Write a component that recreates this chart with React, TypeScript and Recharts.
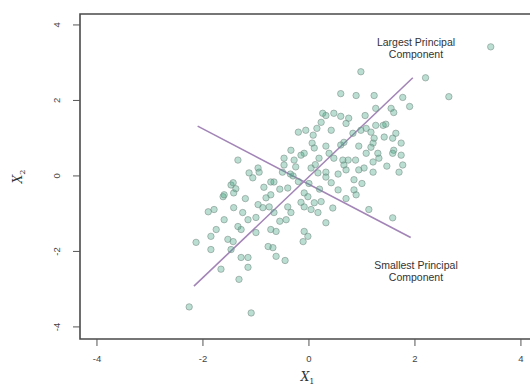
import { ReferenceArea, ReferenceDot, ReferenceLine, Scatter, ScatterChart, XAxis, YAxis } from 'recharts'

const x1 = [
  3.43, 0.98, 2.2, 2.64, 0.6, 0.89, 1.23, 1.77, 1.26, 1.55, 1.9, 1.06, 0.32, 0.47, 0.6, 0.75, 0.23, 0.7,
  -0.06, 0.15, 0.42, 0.83, 1.08, 1.26, 1.45, 1.23, 1.58, 1.74, 1.6, 1.74, 1.32, 1.47, 1.7, 0.06, 0.32, 0.6,
  0.94, 1.08, -0.34, -0.15, 0.19, 0.47, 0.74, 0.7, 0.94, 1.21, -0.47, -0.25, 0.04, 0.32, -1.34, -0.94,
  -1.06, -0.72, -1.47, -1.38, -1.62, -0.81, -0.72, 0.26, -0.2, 0.08, 0.98, 1.17, 0.1, 0.66, -0.47, -0.28,
  -0.09, 0.38, 0.64, 0.66, 0.88, 1.04, 1.17, -0.66, -0.4, -0.09, 0.32, 0.42, 0.55, 0.85, 0.85, -0.02, 0.17,
  1.4, 1.42, 1.64, 1.21, 1.3, 1.58, 1.77, 1.21, 1.6, -1.79, -1.42, -1.25, -0.96, -0.87, -1.6, -1.34, -1.15,
  -1.75, -1.85, -2.13, -1.53, -1.43, -1.28, -1.0, -1.85, -1.47, -1.15, -1.28, -1.66, -1.15, -1.32, -2.26,
  -1.09, -0.75, -0.77, -1.6, -1.42, -0.66, -0.4, -0.34, -0.62, -0.68, -0.62, -0.45, -0.09, -0.11, -0.02,
  -0.09, 0.1, 0.17, 0.32, 0.23, 1.13, 1.58, 0.89, 0.04, -0.43, -0.72, -1.13, -1.43, -0.96, -0.3, 0.0,
  -0.55, 0.2, -0.2, 0.55, -0.85, -0.5, 1.0, 0.7, 0.45, -1.0, -0.55, -1.2, -1.9, -0.35, 0.12, -0.15,
]
const x2 = [
  3.42, 2.76, 2.6, 2.1, 2.18, 2.13, 2.13, 2.08, 1.79, 1.79, 1.84, 1.6, 1.6, 1.66, 1.58, 1.53, 1.42, 1.39,
  1.21, 1.26, 1.21, 1.13, 1.26, 1.34, 1.37, 1.0, 1.0, 0.87, 0.68, 0.55, 0.47, 0.26, 0.1, 0.87, 0.79, 0.82,
  0.79, 0.6, 0.68, 0.55, 0.47, 0.47, 0.42, 0.16, 0.16, 0.1, 0.29, 0.24, 0.21, 0.1, 0.42, 0.1,
  -0.05, -0.16, -0.24, -0.34, -0.55, -0.58, -0.5, 1.66, 1.16, 1.08, 1.21, 1.16, 0.74, 0.89, 0.47, 0.42,
  0.6, 0.6, 0.42, 0.29, 0.42, 0.21, 0.76, -0.16, -0.32, -0.45, -0.03, -0.18, -0.37, -0.1, -0.37, -0.55, 0.08,
  1.34, 1.03, 1.13, 0.87, 0.6, 0.6, 0.29, 0.37, 1.68, -0.89, -0.84, -0.97, -0.76, -0.84, -1.16, -1.34, -1.16,
  -1.42, -1.6, -1.76, -1.68, -1.74, -1.42, -1.5, -1.95, -1.95, -2.16, -2.16, -2.47, -2.42, -2.74, -3.47,
  -3.63, -0.82, -1.87, -0.5, -0.45, -0.97, -0.82, -0.97, -1.47, -1.9, -2.13, -2.24, -1.47, -1.74, -1.6,
  -0.82, -0.71, -0.97, -1.24, -0.68, -0.89, -1.11, -0.5, -0.89, -1.16, -1.42, 0.08, -0.18, 0.21, 0.0, -0.2,
  -0.35, -0.35, -0.15, 0.05, -0.3, 0.1, -0.2, -0.6, -0.85, -1.1, -1.2, -0.6, -0.95, 0.05, 0.3, -0.7,
]

const largestPC = [{ x: -2.17, y: -2.92 }, { x: 1.96, y: 2.6 }]
const smallestPC = [{ x: -2.1, y: 1.32 }, { x: 1.92, y: -1.63 }]
const ticks = [-4, -2, 0, 2, 4]
const xDomain = [-4.32, 4.19]
const yDomain = [-4.32, 4.29]

const points = x1.map((v, i) => ({ x1: v, x2: x2[i] }))

const tickStyle = { fontSize: 9.5, fontFamily: 'Liberation Sans', fill: '#444' }

const Point = (p: any) => (
  <circle cx={p.cx} cy={p.cy} r={3.2} fill="#3aa37e" fillOpacity={0.35} stroke="#7d918a" strokeOpacity={0.75} strokeWidth={0.8} />
)

const YTick = ({ x, y, payload }: any) => (
  <text x={x - 14} y={y} transform={`rotate(-90 ${x - 14} ${y})`} textAnchor="middle" dy="0.35em" {...tickStyle}>{payload.value}</text>
)

const note = (lines: string[]) => (p: any) => (
  <text x={p.cx} y={p.cy} textAnchor="middle" fontSize={10.5} fontFamily="Liberation Sans" fill="#333">
    {lines.map((l, i) => <tspan key={l} x={p.cx} dy={i === 0 ? 0 : 12}>{l}</tspan>)}
  </text>
)

const XTitle = ({ viewBox }: any) => (
  <text x={viewBox.x + viewBox.width / 2 + 2} y={viewBox.y + 42} textAnchor="middle" fontFamily="DejaVu Serif" fontStyle="italic" fontSize={12} fill="#333">
    X<tspan fontSize={8} dy={3} fontStyle="normal">1</tspan>
  </text>
)

const YTitle = ({ viewBox }: any) => {
  const cx = 18
  const cy = viewBox.y + viewBox.height / 2
  return <text x={cx} y={cy} transform={`rotate(-90 ${cx} ${cy})`} textAnchor="middle" dy="0.35em" fontFamily="DejaVu Serif" fontStyle="italic" fontSize={12} fill="#333">
    X<tspan fontSize={8} dy={3} fontStyle="normal">2</tspan>
  </text>
}

export default function App() {
  return <div style={{ position: 'absolute', left: 0, top: 0, width: 530, height: 385, overflow: 'hidden', background: '#fff' }}>
    <ScatterChart width={534} height={385} margin={{ top: 14, right: 3, bottom: 0, left: 0 }}>
      <XAxis type="number" dataKey="x1" domain={xDomain} ticks={ticks} allowDataOverflow axisLine={false} tickSize={7} tickMargin={9}
        tickLine={{ stroke: '#555' }} tick={tickStyle} height={46} label={<XTitle />} />
      <YAxis type="number" dataKey="x2" domain={yDomain} ticks={ticks} allowDataOverflow axisLine={false} tickSize={7}
        tickLine={{ stroke: '#555' }} tick={<YTick />} width={80} label={<YTitle />} />
      <ReferenceArea x1={xDomain[0]} x2={xDomain[1]} y1={yDomain[0]} y2={yDomain[1]} fill="none" stroke="#4a4a4a" strokeWidth={1.6} fillOpacity={0} />
      <Scatter data={points} shape={Point} isAnimationActive={false} />
      <ReferenceLine segment={largestPC} stroke="#a285b6" strokeWidth={1.6} />
      <ReferenceLine segment={smallestPC} stroke="#a285b6" strokeWidth={1.6} />
      <ReferenceDot x={2.02} y={3.45} r={0} shape={note(['Largest Principal', 'Component'])} />
      <ReferenceDot x={2.02} y={-2.47} r={0} shape={note(['Smallest Principal', 'Component'])} />
    </ScatterChart>
  </div>
}
